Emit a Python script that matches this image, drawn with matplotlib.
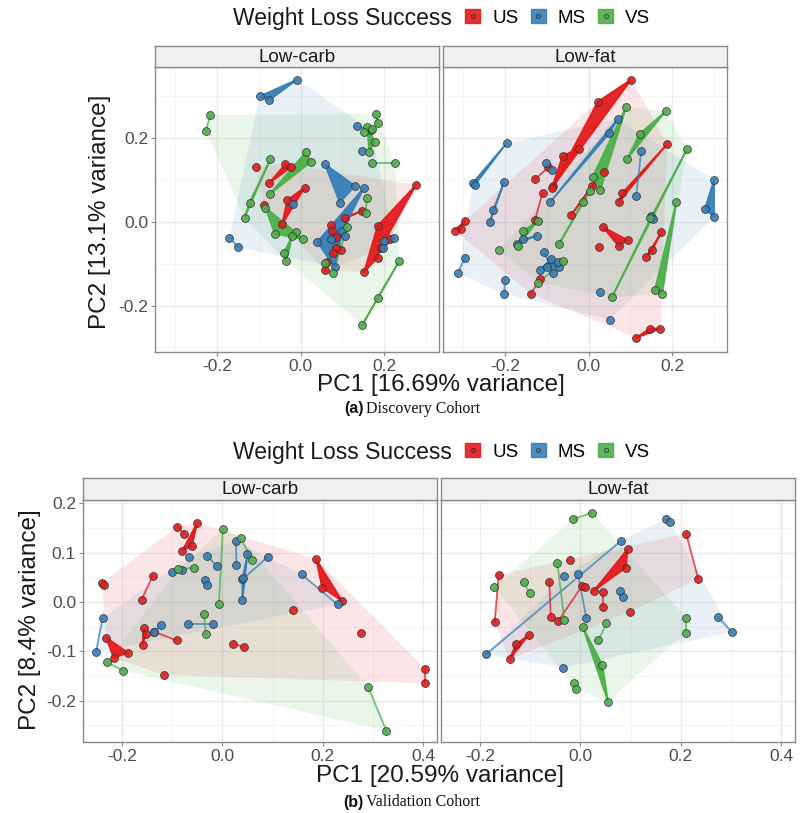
import numpy as np
import matplotlib
matplotlib.use("Agg")
import matplotlib.pyplot as plt
from matplotlib.patches import Patch
from matplotlib.lines import Line2D
from matplotlib.legend_handler import HandlerTuple

plt.rcParams['font.family'] = ['Liberation Sans', 'DejaVu Sans']

groups = ["US", "MS", "VS"]
colors = {"US": "#E41A1C", "MS": "#377EB8", "VS": "#4DAF4A"}
facets = ["Low-carb", "Low-fat"]

# ---------------- Discovery cohort, Low-carb ----------------
disc_lc_US = [
    [(-0.036, 0.138), (-0.024, 0.130), (-0.076, 0.092)],
    [(-0.088, 0.040)],
    [(0.010, 0.082), (-0.032, 0.052), (-0.044, -0.006)],
    [(0.276, 0.088), (0.184, -0.010), (0.152, -0.120), (0.184, -0.086), (0.192, -0.062)],
    [(0.148, 0.027), (0.106, 0.010), (0.072, -0.008)],
    [(0.076, -0.022), (0.084, -0.036), (0.096, -0.068), (0.084, -0.062)],
    [(0.058, -0.116), (0.064, -0.097), (0.078, -0.074)],
    [(0.214, -0.042)],
    [(-0.106, 0.131)],
]
disc_lc_MS = [
    [(-0.008, 0.340), (-0.098, 0.300), (-0.076, 0.290)],
    [(0.058, 0.138), (0.130, 0.086), (0.094, 0.046)],
    [(-0.170, -0.038), (-0.150, -0.060)],
    [(0.152, 0.082), (0.100, -0.022), (0.082, -0.109), (0.040, -0.048)],
    [(0.134, 0.228), (0.168, 0.220)],
    [(0.146, 0.170)],
    [(0.200, -0.046), (0.224, -0.038), (0.198, -0.062)],
    [(-0.018, 0.042)],
    [(0.106, -0.034), (0.072, -0.042)],
]
disc_lc_VS = [
    [(-0.216, 0.255), (-0.226, 0.218)],
    [(0.180, 0.258), (0.184, 0.235)],
    [(0.160, 0.226), (0.178, 0.191), (0.164, 0.167)],
    [(0.152, 0.214), (0.170, 0.223)],
    [(0.170, 0.140), (0.226, 0.140)],
    [(0.012, 0.166), (0.026, 0.144), (-0.074, 0.066)],
    [(-0.072, 0.150), (-0.122, 0.046), (-0.134, 0.010)],
    [(-0.084, 0.034), (-0.062, -0.028), (0.006, -0.042), (-0.012, -0.025)],
    [(-0.020, -0.034), (-0.040, -0.074), (-0.034, -0.094)],
    [(0.236, -0.094), (0.184, -0.182), (0.148, -0.246)],
    [(0.158, 0.058), (0.156, 0.022)],
    [(0.112, -0.012), (0.078, -0.122)],
    [(0.058, -0.098)],
]

# ---------------- Discovery cohort, Low-fat ----------------
disc_lf_US = [
    [(0.102, 0.340), (0.022, 0.287), (-0.084, 0.086)],
    [(-0.022, 0.175), (-0.062, 0.158), (-0.088, 0.080)],
    [(-0.128, 0.102), (-0.096, 0.130)],
    [(-0.110, 0.070), (-0.128, 0.004)],
    [(-0.296, 0.002), (-0.306, -0.018), (-0.320, -0.021)],
    [(0.038, 0.118), (0.008, 0.086), (-0.042, 0.016)],
    [(0.188, 0.186), (0.080, 0.068), (0.072, 0.047)],
    [(0.034, -0.012), (0.094, -0.044), (0.072, -0.058)],
    [(0.026, -0.061)],
    [(0.174, -0.025), (0.152, -0.068), (0.138, -0.084)],
    [(0.114, -0.277), (0.146, -0.255), (0.172, -0.255)],
    [(-0.116, -0.137), (-0.138, -0.172)],
]
disc_lf_MS = [
    [(-0.196, 0.188), (-0.276, 0.094), (-0.272, 0.088)],
    [(-0.202, 0.095), (-0.228, 0.028), (-0.236, -0.001)],
    [(-0.296, -0.086), (-0.312, -0.122)],
    [(-0.200, -0.138), (-0.202, -0.172)],
    [(0.070, 0.246), (0.050, 0.212), (-0.092, 0.047)],
    [(-0.102, 0.140), (-0.088, 0.124)],
    [(0.126, 0.170), (0.114, 0.062)],
    [(0.300, 0.100), (0.278, 0.031), (0.300, 0.012)],
    [(0.150, 0.014), (0.154, 0.006)],
    [(-0.170, -0.052), (-0.156, -0.042), (-0.124, -0.033)],
    [(-0.106, -0.073), (-0.084, -0.122)],
    [(-0.090, -0.089), (-0.070, -0.108), (-0.116, -0.114)],
    [(-0.074, -0.097), (-0.100, -0.108)],
    [(0.028, -0.168)],
    [(0.052, -0.234)],
]
disc_lf_VS = [
    [(0.090, 0.275), (0.010, 0.108), (0.028, 0.076)],
    [(0.184, 0.264), (0.122, 0.210), (0.092, 0.150)],
    [(0.236, 0.175), (0.148, 0.008), (0.056, -0.180)],
    [(0.210, 0.047), (0.158, -0.164), (0.176, -0.172)],
    [(0.004, 0.074), (-0.014, 0.047), (-0.070, -0.052)],
    [(-0.122, 0.002), (-0.156, -0.022), (-0.168, -0.057)],
    [(-0.214, -0.068)],
    [(-0.060, -0.094), (-0.120, -0.145)],
]

# ---------------- Validation cohort, Low-carb ----------------
val_lc_US = [
    [(-0.090, 0.153), (-0.077, 0.139)],
    [(-0.050, 0.161), (-0.061, 0.114), (-0.080, 0.104)],
    [(-0.241, 0.038), (-0.237, 0.034)],
    [(-0.139, 0.053), (-0.161, 0.005)],
    [(0.187, 0.087), (0.239, 0.002), (0.199, 0.029)],
    [(0.141, -0.016)],
    [(0.277, -0.062)],
    [(0.405, -0.136), (0.405, -0.165)],
    [(-0.232, -0.072), (-0.217, -0.113), (-0.188, -0.103)],
    [(-0.157, -0.053), (-0.153, -0.065), (-0.159, -0.087)],
    [(-0.137, -0.060), (-0.091, -0.078)],
    [(0.021, -0.085), (0.043, -0.091)],
    [(-0.117, -0.148)],
]
val_lc_MS = [
    [(-0.239, -0.033), (-0.252, -0.101)],
    [(-0.067, 0.091)],
    [(-0.101, 0.060), (-0.080, 0.065)],
    [(-0.030, 0.093), (-0.011, 0.073)],
    [(-0.035, 0.045), (-0.030, 0.034)],
    [(0.027, 0.124), (0.028, 0.076)],
    [(0.050, 0.097), (0.040, 0.046), (0.040, 0.004)],
    [(0.090, 0.091), (0.042, 0.048)],
    [(0.158, 0.056), (0.230, -0.005)],
    [(-0.122, -0.047), (-0.137, -0.060)],
    [(-0.069, -0.045), (-0.018, -0.045)],
]
val_lc_VS = [
    [(0.001, 0.149), (-0.007, -0.004)],
    [(0.037, 0.129), (0.059, 0.086)],
    [(-0.088, 0.066), (-0.057, 0.070)],
    [(-0.037, -0.024), (-0.033, -0.065)],
    [(-0.230, -0.122), (-0.199, -0.139)],
    [(0.291, -0.173), (0.327, -0.261)],
]

# ---------------- Validation cohort, Low-fat ----------------
val_lf_US = [
    [(-0.163, 0.055), (-0.171, -0.041)],
    [(-0.020, 0.086)],
    [(-0.062, 0.041), (-0.059, -0.030)],
    [(-0.044, -0.038), (0.003, 0.032)],
    [(0.010, 0.030)],
    [(0.094, 0.107), (0.091, 0.070), (0.027, 0.023)],
    [(0.045, 0.021), (0.045, -0.011)],
    [(0.099, -0.020)],
    [(0.211, 0.139), (0.235, 0.047)],
    [(-0.103, -0.067), (-0.129, -0.086), (-0.141, -0.116)],
]
val_lf_MS = [
    [(-0.188, -0.106), (0.081, 0.124)],
    [(0.170, 0.168), (0.178, 0.163)],
    [(-0.005, 0.057), (0.012, -0.033)],
    [(-0.032, 0.053)],
    [(0.079, 0.023), (0.084, 0.011)],
    [(0.274, -0.030), (0.302, -0.061)],
    [(-0.034, -0.133)],
]
val_lf_VS = [
    [(-0.015, 0.168), (0.023, 0.181)],
    [(-0.046, 0.080), (-0.032, -0.036)],
    [(-0.113, 0.041), (-0.101, 0.018)],
    [(-0.172, 0.030)],
    [(0.005, -0.051), (0.044, -0.128), (0.055, -0.202)],
    [(0.052, -0.043), (0.036, -0.078)],
    [(-0.013, -0.164), (-0.008, -0.177)],
    [(0.211, -0.032), (0.211, -0.062)],
]

disc_xlabel = "PC1 [16.69% variance]"
disc_ylabel = "PC2 [13.1% variance]"
val_xlabel = "PC1 [20.59% variance]"
val_ylabel = "PC2 [8.4% variance]"

disc_xticks = [-0.2, 0.0, 0.2]
disc_yticks = [-0.2, 0.0, 0.2]
val_xticks = [-0.2, 0.0, 0.2, 0.4]
val_yticks = [-0.2, -0.1, 0.0, 0.1, 0.2]


def convex_hull(points):
    pts = sorted(set(points))
    if len(pts) < 3:
        return pts

    def cross(o, a, b):
        return (a[0] - o[0]) * (b[1] - o[1]) - (a[1] - o[1]) * (b[0] - o[0])

    lower, upper = [], []
    for p in pts:
        while len(lower) >= 2 and cross(lower[-2], lower[-1], p) <= 0:
            lower.pop()
        lower.append(p)
    for p in reversed(pts):
        while len(upper) >= 2 and cross(upper[-2], upper[-1], p) <= 0:
            upper.pop()
        upper.append(p)
    return lower[:-1] + upper[:-1]


W, H = 800, 813
fig = plt.figure(figsize=(W / 100, H / 100), dpi=100)


def fbox(x0, y0, x1, y1):
    return [x0 / W, 1 - y1 / H, (x1 - x0) / W, (y1 - y0) / H]


GRID = "#EBEBEB"
BORDER = "#8A8A8A"
TICKC = "#4D4D4D"


def draw_panel(rect, strip_rect, title, data, xlim, ylim, xticks, yticks,
               xminor, yminor, show_y):
    ax = fig.add_axes(rect)
    ax.set_xlim(*xlim)
    ax.set_ylim(*ylim)
    for v in xminor:
        ax.axvline(v, color="#F4F4F4", lw=0.6, zorder=0)
    for v in yminor:
        ax.axhline(v, color="#F4F4F4", lw=0.6, zorder=0)
    for v in xticks:
        ax.axvline(v, color=GRID, lw=1.0, zorder=0)
    for v in yticks:
        ax.axhline(v, color=GRID, lw=1.0, zorder=0)
    # convex hull of each group
    for g in groups:
        allpts = [p for s in data[g] for p in s]
        hv = np.array(convex_hull(allpts))
        ax.fill(hv[:, 0], hv[:, 1], color=colors[g], alpha=0.11, lw=0, zorder=1)
    # subject trajectories
    for g in groups:
        c = colors[g]
        for s in data[g]:
            arr = np.array(s)
            if len(arr) == 2:
                ax.plot(arr[:, 0], arr[:, 1], color=c, lw=1.3, alpha=0.75,
                        zorder=2, solid_capstyle="round")
            elif len(arr) >= 3:
                ax.fill(arr[:, 0], arr[:, 1], facecolor=c, edgecolor=c,
                        lw=1.3, alpha=0.95, zorder=2, joinstyle="round")
    for g in groups:
        allpts = np.array([p for s in data[g] for p in s])
        ax.scatter(allpts[:, 0], allpts[:, 1], s=32, facecolor=colors[g],
                   edgecolor="#333333", linewidth=0.6, alpha=0.9, zorder=4)
    ax.set_xticks(xticks)
    ax.set_xticklabels([f"{t:.1f}" for t in xticks])
    ax.set_yticks(yticks)
    if show_y:
        ax.set_yticklabels([f"{t:.1f}" for t in yticks])
    else:
        ax.set_yticklabels([])
    ax.tick_params(axis="both", colors=BORDER, labelcolor=TICKC,
                   labelsize=12.5, length=3, width=0.8, pad=2)
    ax.tick_params(axis="y", length=3 if show_y else 0)
    for sp in ax.spines.values():
        sp.set_color(BORDER)
        sp.set_linewidth(1.0)
    sax = fig.add_axes(strip_rect)
    sax.set_facecolor("#F0F0F0")
    sax.set_xticks([])
    sax.set_yticks([])
    for sp in sax.spines.values():
        sp.set_color(BORDER)
        sp.set_linewidth(1.0)
    sax.text(0.5, 0.47, title, ha="center", va="center", fontsize=13.5,
             color="#1A1A1A", transform=sax.transAxes)
    return ax


def legend_at(yc):
    fig.text(233 / W, 1 - yc / H, "Weight Loss Success", ha="left",
             va="center", fontsize=16.5, color="#1A1A1A")
    handles = [(Patch(facecolor=colors[g], edgecolor=colors[g], alpha=0.9),
                Line2D([], [], marker="o", ls="", ms=3.2, mfc=colors[g],
                       mec="#333333", mew=0.5)) for g in groups]
    fig.legend(handles, groups, handler_map={tuple: HandlerTuple(ndivide=1)},
               loc="center left", bbox_to_anchor=(465 / W, 1 - yc / H),
               ncol=3, frameon=False, fontsize=13.5, handlelength=0.8,
               handleheight=0.8, handletextpad=0.65, columnspacing=0.65,
               borderaxespad=0, borderpad=0)


# ---------- Top: discovery ----------
legend_at(18)
dxl = (-0.348, 0.331)
dyl = (-0.311, 0.370)
mino = [-0.3, -0.1, 0.1, 0.3]
ax1 = draw_panel(fbox(155, 67, 439, 352), fbox(155, 46, 439, 67), facets[0],
                 {"US": disc_lc_US, "MS": disc_lc_MS, "VS": disc_lc_VS},
                 dxl, dyl, disc_xticks, disc_yticks, mino, mino, True)
ax2 = draw_panel(fbox(443, 67, 727, 352), fbox(443, 46, 727, 67), facets[1],
                 {"US": disc_lf_US, "MS": disc_lf_MS, "VS": disc_lf_VS},
                 dxl, dyl, disc_xticks, disc_yticks, mino, mino, False)
fig.text(441 / W, 1 - 385 / H, disc_xlabel, ha="center", va="center",
         fontsize=17.5, color="#1A1A1A")
fig.text(100 / W, 1 - 212 / H, disc_ylabel, ha="center", va="center",
         rotation=90, fontsize=17.5, color="#1A1A1A")
fig.text(364 / W, 1 - 409 / H, "(a)", ha="right", va="center", fontsize=11.5,
         fontweight="bold", color="#111111")
fig.text(366 / W, 1 - 409 / H, "Discovery Cohort", ha="left", va="center",
         fontsize=11.5, family=["Liberation Serif", "DejaVu Serif"], color="#111111")

# ---------- Bottom: validation ----------
legend_at(452)
vxl = (-0.278, 0.428)
vyl = (-0.284, 0.207)
ax3 = draw_panel(fbox(83, 500, 437, 742), fbox(83, 478, 437, 500), facets[0],
                 {"US": val_lc_US, "MS": val_lc_MS, "VS": val_lc_VS},
                 vxl, vyl, val_xticks, val_yticks, [-0.3, -0.1, 0.1, 0.3],
                 [-0.25, -0.15, -0.05, 0.05, 0.15], True)
ax4 = draw_panel(fbox(441, 500, 795, 742), fbox(441, 478, 795, 500), facets[1],
                 {"US": val_lf_US, "MS": val_lf_MS, "VS": val_lf_VS},
                 vxl, vyl, val_xticks, val_yticks, [-0.3, -0.1, 0.1, 0.3],
                 [-0.25, -0.15, -0.05, 0.05, 0.15], False)
fig.text(440 / W, 1 - 776 / H, val_xlabel, ha="center", va="center",
         fontsize=17.5, color="#1A1A1A")
fig.text(30 / W, 1 - 620 / H, val_ylabel, ha="center", va="center",
         rotation=90, fontsize=17.5, color="#1A1A1A")
fig.text(364 / W, 1 - 802 / H, "(b)", ha="right", va="center", fontsize=11.5,
         fontweight="bold", color="#111111")
fig.text(366 / W, 1 - 802 / H, "Validation Cohort", ha="left", va="center",
         fontsize=11.5, family=["Liberation Serif", "DejaVu Serif"], color="#111111")

fig.savefig("out.png", dpi=100)
